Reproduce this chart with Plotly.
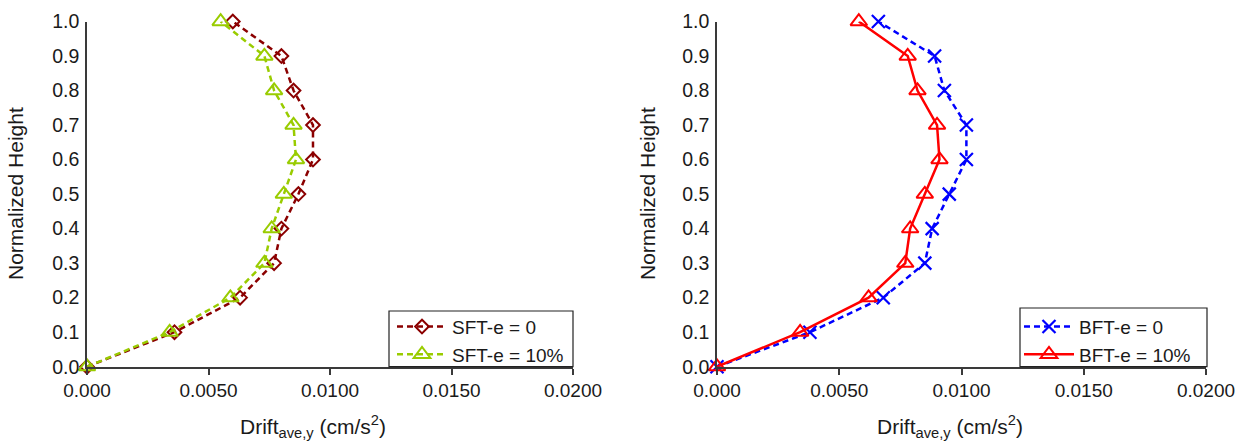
import plotly.graph_objects as go

heights = [0.0, 0.1, 0.2, 0.3, 0.4, 0.5, 0.6, 0.7, 0.8, 0.9, 1.0]

sft_e0 = [0.0, 0.0036, 0.0063, 0.0077, 0.0080, 0.0087, 0.0093, 0.0093, 0.0085, 0.0080, 0.0060]
sft_e10 = [0.0, 0.0034, 0.0059, 0.0073, 0.0076, 0.0081, 0.0086, 0.0085, 0.0077, 0.0073, 0.0055]
bft_e0 = [0.0, 0.0038, 0.0068, 0.0085, 0.0088, 0.0095, 0.0102, 0.0102, 0.0093, 0.0089, 0.0066]
bft_e10 = [0.0, 0.0034, 0.0062, 0.0077, 0.0079, 0.0085, 0.0091, 0.0090, 0.0082, 0.0078, 0.0058]

x_tickvals = [0.0, 0.005, 0.010, 0.015, 0.020]
x_ticktext = ["0.000", "0.0050", "0.0100", "0.0150", "0.0200"]
y_tickvals = [0.0, 0.1, 0.2, 0.3, 0.4, 0.5, 0.6, 0.7, 0.8, 0.9, 1.0]
y_ticktext = ["0.0", "0.1", "0.2", "0.3", "0.4", "0.5", "0.6", "0.7", "0.8", "0.9", "1.0"]

names = ["SFT-e = 0", "SFT-e = 10%", "BFT-e = 0", "BFT-e = 10%"]

W, H = 1240, 442
FONT = "Liberation Sans, Arial, sans-serif"
TXT = "#1a1a1a"
AX = "#3a3a3a"

fig = go.Figure()

fig.add_trace(go.Scatter(
    x=sft_e0, y=heights, name=names[0], mode="lines+markers",
    line=dict(color="#8b0000", width=2.5, dash="6px,4px"),
    marker=dict(symbol="diamond-open", size=10.5, color="#8b0000", line=dict(width=2, color="#8b0000")),
    cliponaxis=False, xaxis="x", yaxis="y", legend="legend"))
fig.add_trace(go.Scatter(
    x=sft_e10, y=heights, name=names[1], mode="lines+markers",
    line=dict(color="#99cc00", width=2.5, dash="6px,4px"),
    marker=dict(symbol="triangle-up-open", size=14.5, color="#99cc00", line=dict(width=2, color="#99cc00")),
    cliponaxis=False, xaxis="x", yaxis="y", legend="legend"))
fig.add_trace(go.Scatter(
    x=bft_e0, y=heights, name=names[2], mode="lines+markers",
    line=dict(color="#0000ff", width=2.5, dash="6px,4px"),
    marker=dict(symbol="x-thin-open", size=13, color="#0000ff", line=dict(width=2.2, color="#0000ff")),
    cliponaxis=False, xaxis="x2", yaxis="y2", legend="legend2"))
fig.add_trace(go.Scatter(
    x=bft_e10, y=heights, name=names[3], mode="lines+markers",
    line=dict(color="#ff0000", width=2.5),
    marker=dict(symbol="triangle-up-open", size=14.5, color="#ff0000", line=dict(width=2, color="#ff0000")),
    cliponaxis=False, xaxis="x2", yaxis="y2", legend="legend2"))

ydom = [1 - 366.7 / H, 1 - 21.5 / H]
xdom1 = [87 / W, 573 / W]
xdom2 = [717 / W, 1206 / W]

xcommon = dict(range=[0, 0.02], tickvals=x_tickvals, ticktext=x_ticktext,
               showline=True, linecolor=AX, linewidth=1.7, ticks="outside", ticklen=6,
               tickcolor=AX, tickwidth=1.5, showgrid=False, zeroline=False, automargin=False,
               tickfont=dict(family=FONT, size=19, color=TXT))
ycommon = dict(range=[0, 1], tickvals=y_tickvals, ticktext=y_ticktext,
               showline=True, linecolor=AX, linewidth=1.7, ticks="", showgrid=False,
               zeroline=False, automargin=False, tickfont=dict(family=FONT, size=19.5, color=TXT),
               ticklabelstandoff=2)

legcommon = dict(borderwidth=0, bgcolor="rgba(0,0,0,0)",
                 font=dict(family=FONT, size=19, color=TXT),
                 xanchor="left", yanchor="bottom", itemwidth=50, tracegroupgap=0)

fig.update_layout(
    width=W, height=H, margin=dict(l=0, r=0, t=0, b=0, autoexpand=False),
    paper_bgcolor="white", plot_bgcolor="white",
    xaxis=dict(domain=xdom1, anchor="y", **xcommon),
    yaxis=dict(domain=ydom, anchor="x", **ycommon),
    xaxis2=dict(domain=xdom2, anchor="y2", **xcommon),
    yaxis2=dict(domain=ydom, anchor="x2", **ycommon),
    legend=dict(x=392 / W, y=ydom[0] - 7 / H, **legcommon),
    legend2=dict(x=1019 / W, y=ydom[0] - 7 / H, **legcommon),
    showlegend=True,
)

# legend frames
for x0, x1, top in [(389, 573, 311), (1020, 1207, 308)]:
    fig.add_shape(type="rect", xref="paper", yref="paper",
                  x0=x0 / W, x1=x1 / W, y0=ydom[0], y1=1 - top / H,
                  line=dict(color="#222222", width=1.2), fillcolor="white", layer="above")

xtitle = "Drift<sub>ave,y</sub> (cm/s<sup>2</sup>)"
for xc in [313, 950]:
    fig.add_annotation(text=xtitle, x=xc / W, y=1 - 426 / H, xref="paper", yref="paper",
                       xanchor="center", yanchor="middle", showarrow=False,
                       font=dict(family=FONT, size=21, color=TXT))
for xc in [15, 647]:
    fig.add_annotation(text="Normalized Height", x=xc / W, y=1 - 194 / H, xref="paper", yref="paper",
                       xanchor="center", yanchor="middle", showarrow=False, textangle=-90,
                       font=dict(family=FONT, size=21, color=TXT))

fig.write_html("out.html")
